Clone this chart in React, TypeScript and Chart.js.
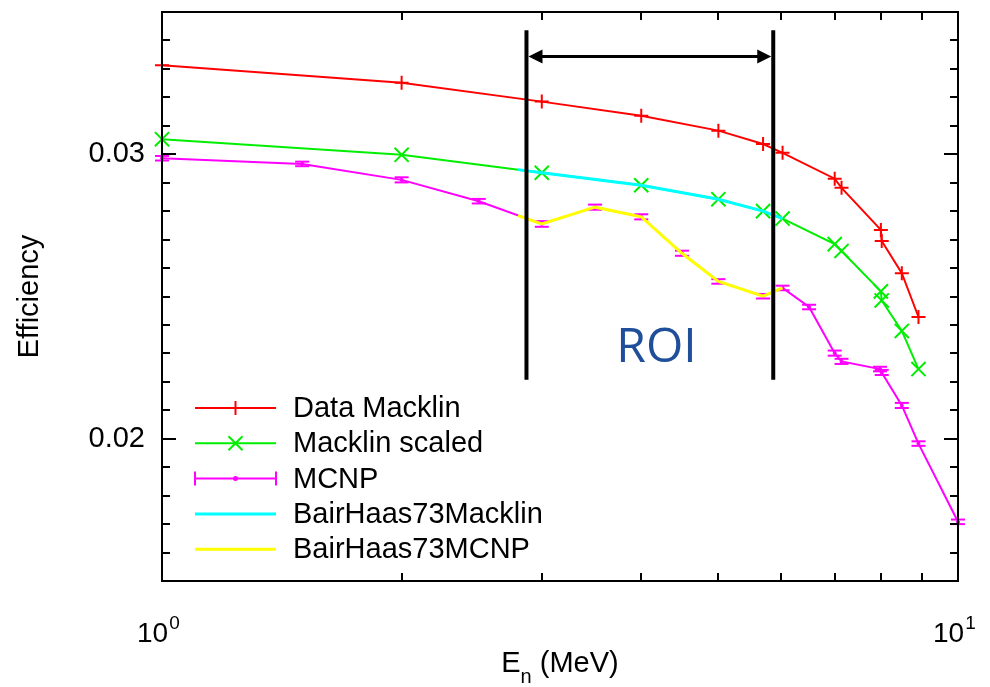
import React, { useEffect, useRef } from 'react';
import { Chart, registerables } from 'chart.js';

Chart.register(...registerables);

const FONT = '"Liberation Sans", Arial, Helvetica, sans-serif';

// ---- data ----
const energyMacklin = [1.0, 2.0, 3.0, 4.0, 5.0, 5.69, 6.02, 7.0, 7.14, 8.0, 8.02, 8.5, 8.92];
const dataMacklin = [0.03313, 0.03251, 0.03185, 0.03135, 0.03083, 0.03036, 0.03005, 0.02914, 0.02882, 0.02734, 0.02695, 0.02582, 0.02428];
const macklinScaled = [0.03053, 0.02998, 0.02935, 0.02891, 0.02842, 0.028, 0.02774, 0.02684, 0.0266, 0.02518, 0.02486, 0.02379, 0.02245];

const energyMCNP = [1.0, 1.5, 2.0, 2.5, 3.0, 3.5, 4.0, 4.5, 5.0, 5.69, 6.02, 6.5, 7.0, 7.14, 7.98, 8.02, 8.5, 8.92, 10.0];
const mcnp = [0.02986, 0.02966, 0.0291, 0.02835, 0.02755, 0.02814, 0.0278, 0.02652, 0.02553, 0.02501, 0.0253, 0.02463, 0.02301, 0.02272, 0.02245, 0.02233, 0.02117, 0.01983, 0.01708];
const mcnpErr = [0.00008, 0.00008, 0.00009, 0.00008, 0.0001, 0.00009, 0.00009, 0.00009, 0.00008, 0.00008, 0.00008, 0.00008, 0.00009, 0.00009, 0.00008, 0.00009, 0.00009, 0.00008, 0.00008];

const energyBairHaasMacklin = [2.8, 3.0, 4.0, 5.0, 5.69, 6.02];
const bairHaasMacklin = [0.02946, 0.02935, 0.02891, 0.02842, 0.028, 0.02774];

const energyBairHaasMCNP = [2.8, 3.0, 3.5, 4.0, 4.5, 5.0, 5.69, 6.02];
const bairHaasMCNP = [0.02784, 0.02755, 0.02814, 0.0278, 0.02652, 0.02553, 0.02501, 0.0253];

// ---- axes ----
const xTicks = [1, 2, 3, 4, 5, 6, 7, 8, 9, 10];
const xMajorTicks = [1, 10];
const xMajorExponents = ['0', '1'];
const yTicks = [0.015, 0.016, 0.017, 0.018, 0.019, 0.02, 0.021, 0.022, 0.023, 0.024, 0.025, 0.026, 0.027, 0.028, 0.029, 0.03, 0.031, 0.032, 0.033, 0.034, 0.035];
const yMajorTicks = [0.02, 0.03];
const yMajorLabels = ['0.02', '0.03'];

// ---- ROI annotation ----
const roiStart = 2.87;
const roiEnd = 5.86;
const roiTop = 0.03436;
const roiBottom = 0.02207;
const roiArrowY = 0.03344;
const roiLabelX = 4.18;
const roiLabelY = 0.02271;
const roiLabel = 'ROI';

const RED = '#ff0000';
const GREEN = '#00ee00';
const MAGENTA = '#ff00ff';
const CYAN = '#00ffff';
const YELLOW = '#ffff00';

const isIn = (arr: number[], v: number) => arr.findIndex((t) => Math.abs(t - v) < 1e-9);

const pairs = (xs: number[], ys: number[]) => xs.map((x, i) => ({ x, y: ys[i] }));

const line = (ctx: CanvasRenderingContext2D, x1: number, y1: number, x2: number, y2: number) => {
  ctx.beginPath();
  ctx.moveTo(x1, y1);
  ctx.lineTo(x2, y2);
  ctx.stroke();
};

const decorPlugin = {
  id: 'decor',
  afterDatasetDraw(chart: any, args: any) {
    if (args.index !== 2) return;
    const { ctx, scales } = chart;
    const x = scales.x;
    const y = scales.y;
    ctx.save();
    ctx.strokeStyle = MAGENTA;
    ctx.lineWidth = 2;
    energyMCNP.forEach((e, i) => {
      const px = x.getPixelForValue(e);
      const yHi = y.getPixelForValue(mcnp[i] + mcnpErr[i]);
      const yLo = y.getPixelForValue(mcnp[i] - mcnpErr[i]);
      line(ctx, px, yHi, px, yLo);
      line(ctx, px - 7, yHi, px + 7, yHi);
      line(ctx, px - 7, yLo, px + 7, yLo);
    });
    ctx.restore();
  },
  afterDatasetsDraw(chart: any) {
    const { ctx, chartArea: a, scales } = chart;
    const x = scales.x;
    const y = scales.y;
    ctx.save();
    ctx.strokeStyle = '#000';
    ctx.fillStyle = '#000';
    ctx.lineWidth = 2;

    // inward ticks, mirrored
    yTicks.forEach((v) => {
      const py = Math.round(y.getPixelForValue(v));
      const len = isIn(yMajorTicks, v) >= 0 ? 14 : 8;
      line(ctx, a.left, py, a.left + len, py);
      line(ctx, a.right, py, a.right - len, py);
    });
    xTicks.forEach((v) => {
      const px = Math.round(x.getPixelForValue(v));
      const len = isIn(xMajorTicks, v) >= 0 ? 14 : 8;
      line(ctx, px, a.bottom, px, a.bottom - len);
      line(ctx, px, a.top, px, a.top + len);
    });
    ctx.strokeRect(a.left, a.top, a.right - a.left, a.bottom - a.top);

    // x tick labels 10^n
    ctx.textBaseline = 'alphabetic';
    ctx.textAlign = 'left';
    xMajorTicks.forEach((v, i) => {
      const px = x.getPixelForValue(v);
      ctx.font = `28px ${FONT}`;
      const w = ctx.measureText('10').width;
      const sx = px - 25;
      ctx.fillText('10', sx, 642);
      ctx.font = `19px ${FONT}`;
      ctx.fillText(xMajorExponents[i], sx + w + 1, 629);
    });

    // x title E_n (MeV)
    {
      ctx.font = `29px ${FONT}`;
      const wE = ctx.measureText('E').width;
      const wRest = ctx.measureText(' (MeV)').width;
      ctx.font = `20px ${FONT}`;
      const wn = ctx.measureText('n').width;
      const total = wE + wn + wRest;
      const cx = (a.left + a.right) / 2;
      let sx = cx - total / 2;
      ctx.font = `29px ${FONT}`;
      ctx.fillText('E', sx, 672);
      sx += wE;
      ctx.font = `20px ${FONT}`;
      ctx.fillText('n', sx, 683);
      sx += wn;
      ctx.font = `29px ${FONT}`;
      ctx.fillText(' (MeV)', sx, 672);
    }

    // ROI annotation
    const rx1 = x.getPixelForValue(roiStart);
    const rx2 = x.getPixelForValue(roiEnd);
    const ry1 = y.getPixelForValue(roiTop);
    const ry2 = y.getPixelForValue(roiBottom);
    const ay = y.getPixelForValue(roiArrowY);
    ctx.lineWidth = 4;
    line(ctx, rx1, ry1, rx1, ry2);
    line(ctx, rx2, ry1, rx2, ry2);
    ctx.lineWidth = 3;
    line(ctx, rx1 + 10, ay, rx2 - 10, ay);
    ctx.beginPath();
    ctx.moveTo(rx1 + 2, ay);
    ctx.lineTo(rx1 + 16, ay - 7);
    ctx.lineTo(rx1 + 16, ay + 7);
    ctx.closePath();
    ctx.fill();
    ctx.beginPath();
    ctx.moveTo(rx2 - 2, ay);
    ctx.lineTo(rx2 - 16, ay - 7);
    ctx.lineTo(rx2 - 16, ay + 7);
    ctx.closePath();
    ctx.fill();

    ctx.fillStyle = '#1f4e9b';
    ctx.font = `48px "Open Sans", ${FONT}`;
    ctx.textAlign = 'center';
    ctx.fillText(roiLabel, x.getPixelForValue(roiLabelX), y.getPixelForValue(roiLabelY));

    // legend
    const lx1 = 195;
    const lx2 = 276;
    const lxm = (lx1 + lx2) / 2;
    const top = 408;
    const step = 35.3;
    ctx.textAlign = 'left';
    ctx.textBaseline = 'middle';
    ctx.font = `29px ${FONT}`;
    chart.data.datasets.forEach((ds: any, i: number) => {
      const ly = top + i * step;
      ctx.strokeStyle = ds.borderColor;
      ctx.fillStyle = ds.borderColor;
      ctx.lineWidth = ds.borderWidth;
      line(ctx, lx1, ly, lx2, ly);
      ctx.lineWidth = 2;
      if (ds.pointStyle === 'cross') {
        line(ctx, lxm, ly - 7, lxm, ly + 7);
      } else if (ds.pointStyle === 'crossRot') {
        line(ctx, lxm - 7, ly - 7, lxm + 7, ly + 7);
        line(ctx, lxm - 7, ly + 7, lxm + 7, ly - 7);
      } else if (i === 2) {
        line(ctx, lx1, ly - 7, lx1, ly + 7);
        line(ctx, lx2, ly - 7, lx2, ly + 7);
        ctx.beginPath();
        ctx.arc(lxm, ly, 2.5, 0, Math.PI * 2);
        ctx.fill();
      }
      ctx.fillStyle = '#000';
      ctx.fillText(ds.label, 293, ly + 1);
    });
    ctx.restore();
  },
};

export default function App() {
  const ref = useRef<HTMLCanvasElement | null>(null);

  useEffect(() => {
    if (!ref.current) return;
    const chart = new Chart(ref.current, {
      type: 'line',
      data: {
        datasets: [
          {
            label: 'Data Macklin',
            data: pairs(energyMacklin, dataMacklin),
            borderColor: RED,
            backgroundColor: RED,
            borderWidth: 2,
            pointStyle: 'cross',
            pointRadius: 7,
            pointBorderWidth: 2,
            pointBorderColor: RED,
            tension: 0,
            clip: false,
            order: 5,
          },
          {
            label: 'Macklin scaled',
            data: pairs(energyMacklin, macklinScaled),
            borderColor: GREEN,
            backgroundColor: GREEN,
            borderWidth: 2,
            pointStyle: 'crossRot',
            pointRadius: 10,
            pointBorderWidth: 2,
            pointBorderColor: GREEN,
            tension: 0,
            clip: false,
            order: 4,
          },
          {
            label: 'MCNP',
            data: pairs(energyMCNP, mcnp),
            borderColor: MAGENTA,
            backgroundColor: MAGENTA,
            borderWidth: 2,
            pointStyle: 'circle',
            pointRadius: 1.5,
            pointBorderWidth: 1,
            pointBorderColor: MAGENTA,
            tension: 0,
            clip: false,
            order: 3,
          },
          {
            label: 'BairHaas73Macklin',
            data: pairs(energyBairHaasMacklin, bairHaasMacklin),
            borderColor: CYAN,
            backgroundColor: CYAN,
            borderWidth: 3,
            pointRadius: 0,
            tension: 0,
            clip: false,
            order: 2,
          },
          {
            label: 'BairHaas73MCNP',
            data: pairs(energyBairHaasMCNP, bairHaasMCNP),
            borderColor: YELLOW,
            backgroundColor: YELLOW,
            borderWidth: 3,
            pointRadius: 0,
            tension: 0,
            clip: false,
            order: 1,
          },
        ],
      } as any,
      options: {
        responsive: false,
        animation: false,
        events: [],
        layout: { padding: { left: 0, right: 32, top: 7, bottom: 0 } },
        plugins: { legend: { display: false }, tooltip: { enabled: false } },
        scales: {
          x: {
            type: 'logarithmic',
            min: 1,
            max: 10,
            afterBuildTicks: (s: any) => {
              s.ticks = xTicks.map((v) => ({ value: v }));
            },
            afterFit: (s: any) => {
              s.height = 106;
              s.paddingLeft = 0;
              s.paddingRight = 0;
              s.paddingTop = 0;
              s.paddingBottom = 0;
            },
            ticks: { display: false },
            grid: { display: false, drawTicks: false, tickLength: 0 },
            border: { display: false },
          },
          y: {
            type: 'linear',
            min: 0.015,
            max: 0.035,
            afterBuildTicks: (s: any) => {
              s.ticks = yTicks.map((v) => ({ value: v }));
            },
            afterFit: (s: any) => {
              s.width = 162;
              s.paddingTop = 0;
              s.paddingBottom = 0;
              s.paddingLeft = 0;
              s.paddingRight = 0;
            },
            ticks: {
              autoSkip: false,
              padding: 17,
              color: '#000',
              font: { family: FONT, size: 29 },
              callback: (v: any) => {
                const k = isIn(yMajorTicks, Number(v));
                return k >= 0 ? yMajorLabels[k] : '';
              },
            },
            grid: { display: false, drawTicks: false, tickLength: 0 },
            border: { display: false },
            title: {
              display: true,
              text: 'Efficiency',
              color: '#000',
              font: { family: FONT, size: 29 },
              padding: { top: 13, bottom: 0 },
            },
          },
        },
      } as any,
      plugins: [decorPlugin],
    });
    return () => chart.destroy();
  }, []);

  return (
    <div style={{ position: 'absolute', left: 0, top: 0, width: 990, height: 687, background: '#fff' }}>
      <canvas ref={ref} width={990} height={687} style={{ display: 'block' }} />
    </div>
  );
}
